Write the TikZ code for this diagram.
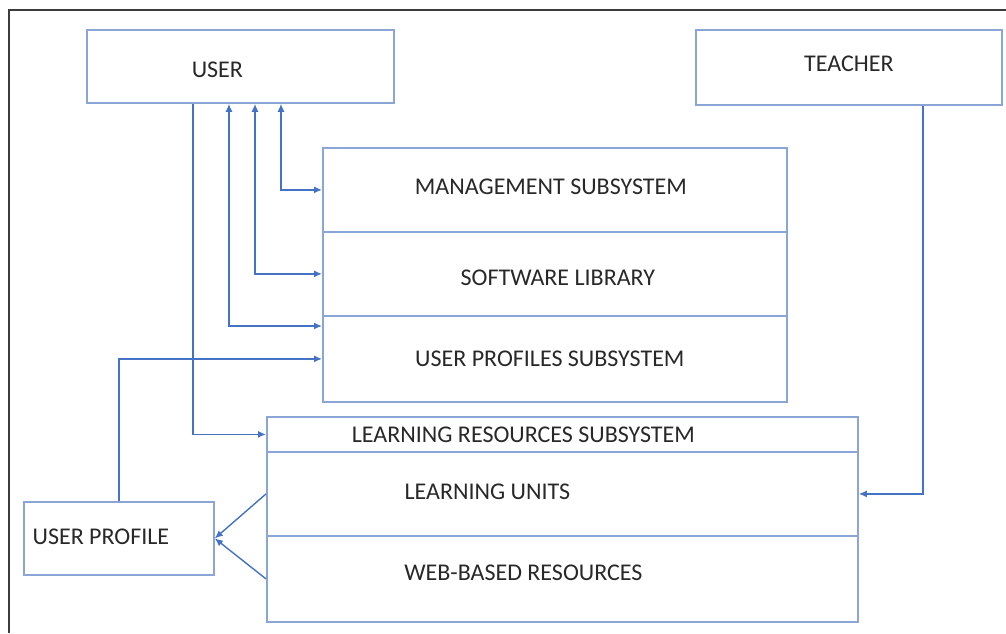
\documentclass[tikz,border=0pt]{standalone}
\usepackage{fontspec}
\setmainfont{Carlito}
\usetikzlibrary{arrows.meta}
\definecolor{boxline}{RGB}{140,165,215}
\definecolor{linkblue}{RGB}{68,114,196}
\definecolor{txt}{RGB}{40,40,40}
\definecolor{frame}{RGB}{60,60,60}
\begin{document}
\begin{tikzpicture}[x=1pt,y=-1pt,
    box/.style={draw=boxline, line width=1.8pt, fill=white, inner sep=0pt, anchor=north west},
    tag/.style={text=txt, font=\fontsize{24}{28}\selectfont},
    link/.style={draw=linkblue, line width=1.4pt, {Latex[length=8pt,width=7pt]}-{Latex[length=8pt,width=7pt]}},
    oneway/.style={draw=linkblue, line width=1.4pt, -{Latex[length=8pt,width=7pt]}}]

    \useasboundingbox (0,0) rectangle (1006,633);
    \draw[frame, line width=2.2pt] (9,633) -- (9,10) -- (1006,10);

    \node[box, minimum width=307, minimum height=73, label={[tag,xshift=-23,yshift=-3]center:USER}] (user) at (86,29) {};
    \node[box, minimum width=306, minimum height=75, label={[tag,yshift=4]center:TEACHER}] (teacher) at (695,29) {};

    \node[box, minimum width=464, minimum height=84, label={[tag,xshift=-4,yshift=3]center:MANAGEMENT SUBSYSTEM}] (mgmt) at (322,147) {};
    \node[box, minimum width=464, minimum height=84, label={[tag,xshift=3,yshift=-4]center:SOFTWARE LIBRARY}] (lib) at (322,231) {};
    \node[box, minimum width=464, minimum height=86, label={[tag,xshift=-5]center:USER PROFILES SUBSYSTEM}] (prof) at (322,315) {};

    \node[box, minimum width=591, minimum height=35, label={[tag,xshift=-39]center:LEARNING RESOURCES SUBSYSTEM}] (lrs) at (266,416) {};
    \node[box, minimum width=591, minimum height=84, label={[tag,xshift=-75,yshift=2]center:LEARNING UNITS}] (units) at (266,451) {};
    \node[box, minimum width=591, minimum height=86, label={[tag,xshift=-39,yshift=6]center:WEB-BASED RESOURCES}] (web) at (266,535) {};

    \node[box, minimum width=190, minimum height=73, label={[tag,xshift=-18,yshift=2]center:USER PROFILE}] (up) at (23,501) {};

    \coordinate (k0) at (193,436);
    \coordinate (k1) at (229,326);
    \coordinate (k2) at (255,270);
    \coordinate (k3) at (281,186);
    \coordinate (k5) at (923,494);

    \draw[oneway] (user.south -| k0) |- (lrs.west);
    \draw[link] (user.south -| k1) |- (prof.west |- k1);
    \draw[link] (user.south -| k2) |- (lib.west);
    \draw[link] (user.south -| k3) |- (mgmt.west);
    \draw[oneway] (up.north) |- (prof.west);
    \draw[oneway] (teacher.south -| k5) |- (units.east);
    \draw[oneway] (units.west) -- (up.east);
    \draw[oneway] (web.west) -- (up.east);

\end{tikzpicture}
\end{document}
